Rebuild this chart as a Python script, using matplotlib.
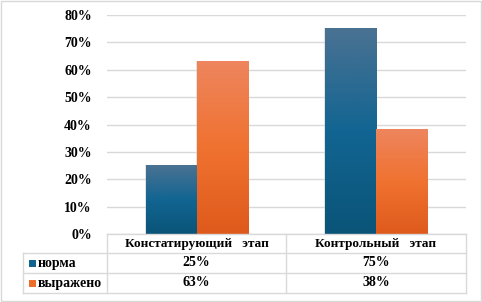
import matplotlib
matplotlib.use("Agg")
import matplotlib.pyplot as plt
import numpy as np
from matplotlib.colors import LinearSegmentedColormap
from matplotlib.patches import Rectangle
from matplotlib.lines import Line2D

categories = ["Констатирующий   этап", "Контрольный   этап"]
series_names = ["норма", "выражено"]
norma = [0.25, 0.75]
vyrazheno = [0.63, 0.38]
value_labels = [["25%", "75%"], ["63%", "38%"]]
yticks = [0, 0.1, 0.2, 0.3, 0.4, 0.5, 0.6, 0.7, 0.8]
ytick_labels = ["0%", "10%", "20%", "30%", "40%", "50%", "60%", "70%", "80%"]

W, H = 482, 302
fig = plt.figure(figsize=(W / 100, H / 100), dpi=100)
fig.patch.set_facecolor("white")

FONT = dict(family="Liberation Serif", weight="bold", size=10, color="black")
HFONT = dict(FONT, size=9.5)
GRID = "#d9d9d9"

def fx(px):
    return px / W

def fy(py):
    return 1 - py / H

# plot area
x_left, x_right, y_top, y_bot = 107, 466, 15, 234
ax = fig.add_axes([fx(x_left), fy(y_bot), fx(x_right) - fx(x_left), fy(y_top) - fy(y_bot)])
ax.set_xlim(-0.5, 1.5)
ax.set_ylim(0, 0.8)
for s in ax.spines.values():
    s.set_visible(False)
ax.set_xticks([])
ax.set_yticks(yticks)
ax.set_yticklabels(ytick_labels, fontdict=FONT)
ax.tick_params(axis="y", length=0, pad=11)
ax.yaxis.grid(True, color=GRID, linewidth=1)
ax.set_axisbelow(True)

blue_cmap = LinearSegmentedColormap.from_list("b", ["#0a5478", "#126592", "#4a7292"])
orange_cmap = LinearSegmentedColormap.from_list("o", ["#de5a1c", "#f07230", "#ee855e"])

bw = 0.285
x = np.arange(len(categories))
grad = np.linspace(0, 1, 256).reshape(-1, 1)
for vals, off, cmap in [(norma, -bw / 2, blue_cmap), (vyrazheno, bw / 2, orange_cmap)]:
    bars = ax.bar(x + off, vals, width=bw, color="none", zorder=3)
    for b in bars:
        x0 = b.get_x()
        h = b.get_height()
        # subtle shadow
        ax.add_patch(Rectangle((x0 - 0.006, 0), bw + 0.012, h + 0.003, facecolor="#c8c8c8",
                               alpha=0.5, edgecolor="none", zorder=2))
        ax.imshow(grad, extent=(x0, x0 + bw, 0, h), origin="lower", cmap=cmap,
                  aspect="auto", zorder=3)
ax.set_xlim(-0.5, 1.5)
ax.set_ylim(0, 0.8)

# data table
col_edges = [23, 107, 286, 466]
row_edges = [234, 253, 273, 293]
lines = []
lines.append(((107, 466), (234, 234)))
lines.append(((23, 466), (253, 253)))
lines.append(((23, 466), (273, 273)))
lines.append(((23, 466), (293, 293)))
lines.append(((107, 107), (234, 293)))
lines.append(((286, 286), (234, 293)))
lines.append(((466, 466), (234, 293)))
lines.append(((23, 23), (253, 293)))
for xs, ys in lines:
    fig.add_artist(Line2D([fx(v) for v in xs], [fy(v) for v in ys], color=GRID, linewidth=1))

# outer border
fig.add_artist(Rectangle((fx(0.5), fy(300.5)), fx(480), fy(0.5) - fy(300.5), fill=False,
                         edgecolor=GRID, linewidth=1))

col_centers = [(col_edges[i] + col_edges[i + 1]) / 2 for i in range(1, 3)]
for i, c in enumerate(categories):
    fig.text(fx(col_centers[i]), fy((row_edges[0] + row_edges[1]) / 2), c,
             ha="center", va="center", **HFONT)

legend_colors = ["#11628c", "#ee6f2c"]
for r in range(2):
    yc = (row_edges[r + 1] + row_edges[r + 2]) / 2
    fig.add_artist(Rectangle((fx(29), fy(yc + 3.5)), fx(7), fy(yc - 3.5) - fy(yc + 3.5),
                             facecolor=legend_colors[r], edgecolor="none"))
    fig.text(fx(38), fy(yc), series_names[r], ha="left", va="center", **FONT)
    for i in range(2):
        fig.text(fx(col_centers[i]), fy(yc), value_labels[r][i], ha="center", va="center", **FONT)

fig.savefig("out.png", dpi=100, facecolor="white")
